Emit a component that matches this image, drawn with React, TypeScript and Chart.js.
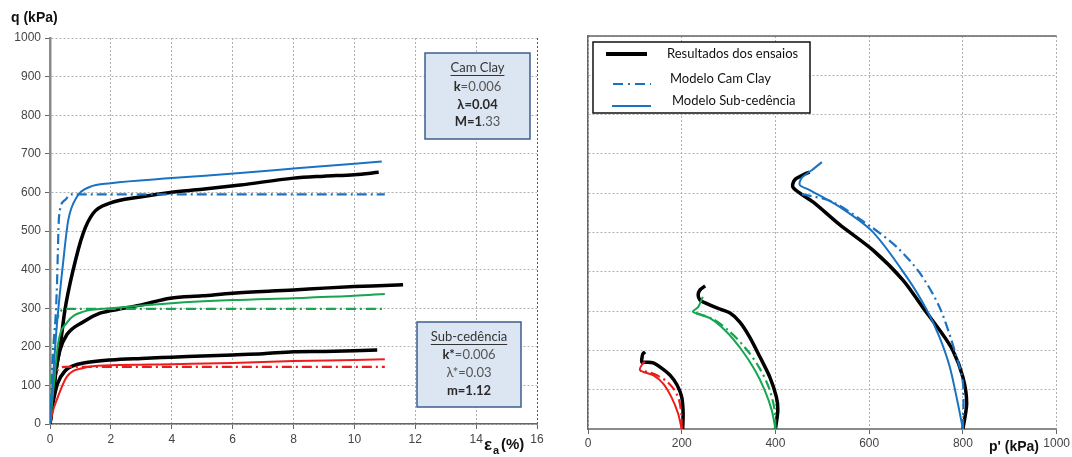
import React, { useEffect, useRef } from "react";
import { Chart, registerables } from "chart.js";
Chart.register(...registerables);

// ---------- Left chart: q vs axial strain ----------
const strainMin = 0;
const strainMax = 16;
const strainStep = 2;
const qMin = 0;
const qMax = 1000;
const qStep = 100;

// Test results (black)
const exp800E = [0, 0.1, 0.2, 0.33, 0.49, 0.76, 1.09, 1.42, 1.97, 2.96, 3.95, 5, 6.25, 8, 9, 10, 10.8];
const exp800Q = [0, 70, 140, 200, 295, 399, 494, 546, 572, 588, 600, 608, 619, 637, 642, 646, 652];
const exp400E = [0, 0.08, 0.18, 0.33, 0.55, 1.1, 1.64, 1.97, 2.96, 3.95, 5, 6, 8, 9, 10, 11, 11.6];
const exp400Q = [0, 60, 130, 192, 231, 265, 287, 293, 308, 326, 332, 339, 347, 352, 356, 359, 361];
const exp200E = [0, 0.1, 0.25, 0.5, 0.8, 1.1, 2, 3, 4, 5, 6, 7, 8, 9, 10, 10.75];
const exp200Q = [0, 55, 105, 138, 152, 158, 166, 170, 173, 176, 179, 182, 187, 188, 190, 192];

// Sub-yielding model (solid)
const sub800E = [0, 0.1, 0.22, 0.44, 0.6, 0.88, 1.3, 2, 4, 6.25, 8.2, 10.9];
const sub800Q = [0, 120, 251, 425, 528, 588, 614, 624, 637, 650, 663, 680];
const sub400E = [0, 0.11, 0.27, 0.55, 1.1, 2, 4, 6, 8, 10, 11];
const sub400Q = [0, 88, 210, 262, 291, 300, 313, 321, 326, 332, 337];
const sub200E = [0, 0.1, 0.22, 0.55, 1.1, 2, 4, 6, 8, 10, 11];
const sub200Q = [0, 35, 62, 122, 145, 152, 155, 158, 163, 166, 168];

// Cam Clay model (dash-dot)
const cc800E = [0, 0.05, 0.1, 0.22, 0.3, 0.49, 0.7, 11];
const cc800Q = [0, 80, 166, 339, 540, 580, 595, 595];
const cc400E = [0, 0.05, 0.15, 0.3, 0.5, 11];
const cc400Q = [0, 120, 240, 285, 298, 298];
const cc200E = [0, 0.05, 0.15, 0.3, 0.5, 11];
const cc200Q = [0, 60, 120, 143, 148, 148];

// ---------- Right chart: q vs p' ----------
const pMin = 0;
const pMax = 1000;
const pStep = 200;

const path200ExpP = [202, 203, 200, 190, 175, 157, 139, 125, 115, 115, 117, 122];
const path200ExpQ = [0, 40, 81, 112, 137, 155, 168, 170, 170, 180, 191, 196];
const path200SubP = [200, 192, 178, 160, 139, 111, 117, 122];
const path200SubQ = [0, 40, 81, 116, 137, 150, 167, 170];
const path200CcP = [200, 199, 194, 184, 168, 148, 128, 111];
const path200CcQ = [0, 40, 75, 100, 121, 136, 145, 148];

const path400ExpP = [400, 405, 402, 388, 367, 345, 324, 303, 275, 250, 239, 235, 239, 250];
const path400ExpQ = [0, 48, 81, 132, 183, 234, 272, 295, 308, 321, 328, 341, 354, 364];
const path400SubP = [400, 392, 377, 356, 328, 296, 260, 224, 235, 245];
const path400SubQ = [0, 48, 99, 150, 201, 247, 282, 298, 310, 336];
const path400CcP = [400, 398, 386, 366, 338, 304, 266, 224];
const path400CcQ = [0, 50, 105, 155, 203, 246, 280, 298];

const path800ExpP = [800, 808, 800, 778, 750, 714, 672, 608, 537, 480, 452, 437, 441, 458, 473];
const path800ExpQ = [0, 66, 132, 201, 252, 310, 379, 455, 520, 578, 600, 616, 634, 646, 654];
const path800SubP = [800, 789, 772, 750, 723, 680, 608, 537, 473, 452, 456, 478, 499];
const path800SubQ = [0, 66, 158, 234, 303, 387, 501, 565, 608, 621, 639, 659, 679];
const path800CcP = [800, 800, 782, 750, 708, 659, 608, 522, 467, 448];
const path800CcQ = [0, 117, 201, 310, 397, 463, 511, 578, 595, 598];

const legendLabels = ["Resultados dos ensaios", "Modelo Cam Clay", "Modelo Sub-cedência"];

type Seg = [string, boolean];
const camClayTitle = "Cam Clay";
const camClayLines: Seg[][] = [
  [["k", true], ["=0.006", false]],
  [["λ=", true], ["0.04", true]],
  [["M=1", true], [".33", false]],
];
const subTitle = "Sub-cedência";
const subLines: Seg[][] = [
  [["k*", true], ["=0.006", false]],
  [["λ*", false], ["=0.03", false]],
  [["m=1", true], [".12", true]],
];

// ---------- styling ----------
const BLACK = "#000000";
const BLUE = "#1a73c2";
const GREEN = "#16a550";
const RED = "#ee1b1b";
const DASHDOT = [10, 4, 2, 4];
const TICK_FONT = { family: "'Liberation Sans', Arial, sans-serif", size: 12 };
const BOX_FONT = "Lato, 'Open Sans', sans-serif";

function pts(xs: number[], ys: number[]) {
  return xs.map((x, i) => ({ x, y: ys[i] }));
}

function line(data: { x: number; y: number }[], color: string, width: number, dash: number[] = [], tension = 0) {
  return {
    data,
    borderColor: color,
    backgroundColor: color,
    borderWidth: width,
    borderDash: dash,
    pointRadius: 0,
    showLine: true,
    fill: false,
    tension,
  } as any;
}

function drawSegs(ctx: CanvasRenderingContext2D, segs: Seg[], cx: number, y: number) {
  let total = 0;
  const widths = segs.map(([t, b]) => {
    ctx.font = `${b ? "bold " : ""}13px ${BOX_FONT}`;
    const w = ctx.measureText(t).width;
    total += w;
    return w;
  });
  let x = cx - total / 2;
  segs.forEach(([t, b], i) => {
    ctx.font = `${b ? "bold " : ""}13px ${BOX_FONT}`;
    ctx.fillStyle = b ? "#2a2a2a" : "#555555";
    ctx.textAlign = "left";
    ctx.textBaseline = "middle";
    ctx.fillText(t, x, y);
    x += widths[i];
  });
}

function drawBox(
  ctx: CanvasRenderingContext2D,
  x: number, y: number, w: number, h: number,
  title: string, lines: Seg[][], titleY: number, lineYs: number[]
) {
  ctx.save();
  ctx.fillStyle = "#dce6f2";
  ctx.fillRect(x, y, w, h);
  ctx.strokeStyle = "#3b5f8c";
  ctx.lineWidth = 1.5;
  ctx.strokeRect(x, y, w, h);
  const cx = x + w / 2;
  ctx.font = `13px ${BOX_FONT}`;
  ctx.fillStyle = "#333333";
  ctx.textAlign = "center";
  ctx.textBaseline = "middle";
  ctx.fillText(title, cx, titleY);
  const tw = ctx.measureText(title).width;
  ctx.beginPath();
  ctx.strokeStyle = "#333333";
  ctx.lineWidth = 1;
  ctx.moveTo(cx - tw / 2, titleY + 7.5);
  ctx.lineTo(cx + tw / 2, titleY + 7.5);
  ctx.stroke();
  lines.forEach((segs, i) => drawSegs(ctx, segs, cx, lineYs[i]));
  ctx.restore();
}

const leftDecor = {
  id: "leftDecor",
  afterDraw(chart: any) {
    const ctx: CanvasRenderingContext2D = chart.ctx;
    ctx.save();
    ctx.fillStyle = "#111";
    ctx.font = "bold 14px 'Liberation Sans', Arial, sans-serif";
    ctx.textAlign = "left";
    ctx.textBaseline = "middle";
    ctx.fillText("q (kPa)", 11, 18);
    ctx.font = "bold 17px 'Liberation Sans', Arial, sans-serif";
    ctx.fillText("ε", 484, 445);
    ctx.font = "bold 11px 'Liberation Sans', Arial, sans-serif";
    ctx.fillText("a", 493, 451);
    ctx.font = "bold 15px 'Liberation Sans', Arial, sans-serif";
    ctx.fillText("(%)", 501, 445);
    ctx.restore();
    drawBox(ctx, 425, 53, 105, 86, camClayTitle, camClayLines, 68, [87, 105, 122]);
    drawBox(ctx, 417, 322, 104, 85, subTitle, subLines, 337, [355, 373, 391]);
  },
};

const OFF = 560;
const rightDecor = {
  id: "rightDecor",
  afterDraw(chart: any) {
    const ctx: CanvasRenderingContext2D = chart.ctx;
    const a = chart.chartArea;
    ctx.save();
    ctx.strokeStyle = "#666";
    ctx.lineWidth = 1.5;
    ctx.beginPath();
    ctx.moveTo(a.left, a.top);
    ctx.lineTo(a.right, a.top);
    ctx.stroke();
    // legend
    ctx.fillStyle = "#ffffff";
    ctx.fillRect(593 - OFF, 42, 217, 71);
    ctx.strokeStyle = "#111";
    ctx.lineWidth = 1.5;
    ctx.strokeRect(593 - OFF, 42, 217, 71);
    ctx.lineCap = "butt";
    ctx.beginPath();
    ctx.strokeStyle = BLACK;
    ctx.lineWidth = 4;
    ctx.moveTo(606 - OFF, 54);
    ctx.lineTo(647 - OFF, 54);
    ctx.stroke();
    ctx.beginPath();
    ctx.strokeStyle = BLUE;
    ctx.lineWidth = 2;
    ctx.setLineDash([10, 5, 2, 5]);
    ctx.moveTo(613 - OFF, 84);
    ctx.lineTo(651 - OFF, 84);
    ctx.stroke();
    ctx.setLineDash([]);
    ctx.beginPath();
    ctx.moveTo(612 - OFF, 106);
    ctx.lineTo(651 - OFF, 106);
    ctx.stroke();
    ctx.fillStyle = "#111";
    ctx.font = `13px ${BOX_FONT}`;
    ctx.textAlign = "left";
    ctx.textBaseline = "middle";
    ctx.fillText(legendLabels[0], 667 - OFF, 54);
    ctx.fillText(legendLabels[1], 670 - OFF, 79);
    ctx.fillText(legendLabels[2], 672 - OFF, 101);
    ctx.fillStyle = "#111";
    ctx.font = "bold 14px 'Liberation Sans', Arial, sans-serif";
    ctx.fillText("p' (kPa)", 989 - OFF, 447);
    ctx.restore();
  },
};

function gridColor(maxV: number) {
  return (c: any) => (c.tick && c.tick.value === maxV ? "#555" : "#b0b0b0");
}

const plainTick = (v: any) => String(v);

export default function App() {
  const leftRef = useRef<HTMLCanvasElement>(null);
  const rightRef = useRef<HTMLCanvasElement>(null);

  useEffect(() => {
    const left = new Chart(leftRef.current!, {
      type: "scatter",
      data: {
        datasets: [
          line(pts(sub800E, sub800Q), BLUE, 2, [], 0.3),
          line(pts(sub400E, sub400Q), GREEN, 2, [], 0.3),
          line(pts(sub200E, sub200Q), RED, 2, [], 0.3),
          line(pts(cc800E, cc800Q), BLUE, 2.2, DASHDOT, 0.2),
          line(pts(cc400E, cc400Q), GREEN, 2.2, DASHDOT, 0.2),
          line(pts(cc200E, cc200Q), RED, 2.2, DASHDOT, 0.2),
          line(pts(exp800E, exp800Q), BLACK, 3.5, [], 0.3),
          line(pts(exp400E, exp400Q), BLACK, 3.5, [], 0.3),
          line(pts(exp200E, exp200Q), BLACK, 3.5, [], 0.3),
        ],
      },
      options: {
        animation: false,
        responsive: false,
        devicePixelRatio: 1,
        layout: { padding: { left: 0, right: 23, top: 38, bottom: 0 } },
        plugins: { legend: { display: false }, tooltip: { enabled: false } },
        elements: { line: { cubicInterpolationMode: "monotone" } },
        scales: {
          x: {
            type: "linear",
            min: strainMin,
            max: strainMax,
            ticks: { stepSize: strainStep, color: "#444", font: TICK_FONT, padding: 3, maxRotation: 0, callback: plainTick },
            grid: { color: gridColor(strainMax), tickLength: 5, tickColor: "#666" },
            border: { display: true, color: "#666", width: 1.5, dash: [2, 2] },
            afterFit: (s: any) => { s.height = 33; },
          },
          y: {
            type: "linear",
            min: qMin,
            max: qMax,
            ticks: { stepSize: qStep, color: "#444", font: TICK_FONT, padding: 4, callback: plainTick },
            grid: { color: "#b0b0b0", tickLength: 5, tickColor: "#666" },
            border: { display: true, color: "#8a8a8a", width: 2.5, dash: [2, 2] },
            afterFit: (s: any) => { s.width = 50; },
          },
        },
      } as any,
      plugins: [leftDecor],
    });

    const right = new Chart(rightRef.current!, {
      type: "scatter",
      data: {
        datasets: [
          line(pts(path800SubP, path800SubQ), BLUE, 2, [], 0.3),
          line(pts(path400SubP, path400SubQ), GREEN, 2, [], 0.3),
          line(pts(path200SubP, path200SubQ), RED, 2, [], 0.3),
          line(pts(path800CcP, path800CcQ), BLUE, 2.2, DASHDOT, 0.3),
          line(pts(path400CcP, path400CcQ), GREEN, 2.2, DASHDOT, 0.3),
          line(pts(path200CcP, path200CcQ), RED, 2.2, DASHDOT, 0.3),
          line(pts(path800ExpP, path800ExpQ), BLACK, 3.5, [], 0.3),
          line(pts(path400ExpP, path400ExpQ), BLACK, 3.5, [], 0.3),
          line(pts(path200ExpP, path200ExpQ), BLACK, 3.5, [], 0.3),
        ],
      },
      options: {
        animation: false,
        responsive: false,
        devicePixelRatio: 1,
        layout: { padding: { left: 0, right: 15, top: 36, bottom: 0 } },
        plugins: { legend: { display: false }, tooltip: { enabled: false } },
        scales: {
          x: {
            type: "linear",
            min: pMin,
            max: pMax,
            ticks: { stepSize: pStep, color: "#444", font: TICK_FONT, padding: 2, maxRotation: 0, callback: plainTick },
            grid: { color: "#b0b0b0", tickLength: 5, tickColor: "#666" },
            border: { display: true, color: "#8a8a8a", width: 2, dash: [2, 2] },
            afterFit: (s: any) => { s.height = 28; },
          },
          y: {
            type: "linear",
            min: qMin,
            max: qMax,
            ticks: { stepSize: qStep, display: false },
            grid: { color: "#b0b0b0", drawTicks: false },
            border: { display: true, color: "#666", width: 1.5, dash: [2, 2] },
            afterFit: (s: any) => { s.width = 28; },
          },
        },
      } as any,
      plugins: [rightDecor],
    });

    return () => {
      left.destroy();
      right.destroy();
    };
  }, []);

  return (
    <div style={{ position: "absolute", left: 0, top: 0, width: 1072, height: 457, background: "#fff" }}>
      <canvas ref={leftRef} width={560} height={457} style={{ position: "absolute", left: 0, top: 0, width: 560, height: 457 }} />
      <canvas ref={rightRef} width={512} height={457} style={{ position: "absolute", left: 560, top: 0, width: 512, height: 457 }} />
    </div>
  );
}
